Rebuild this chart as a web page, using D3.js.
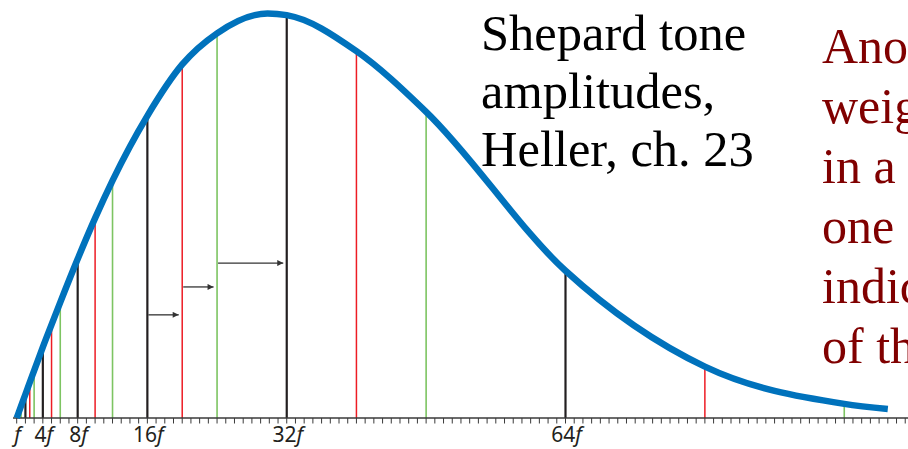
<!DOCTYPE html>
<html>
<head>
<meta charset="utf-8">
<script src="https://cdn.jsdelivr.net/npm/d3@7"></script>
<style>
  html, body { margin: 0; padding: 0; background: #fff; }
  svg { display: block; }
</style>
</head>
<body>
<svg id="chart" width="908" height="449"></svg>
<script>
// Partials of a Shepard tone, as multiples of the base frequency f,
// and their amplitudes under the spectral envelope (peak = 1).
const octaveHarmonics = [1, 2, 4, 8, 16, 32, 64];
const octaveAmps      = [0.0, 0.0586, 0.1755, 0.393, 0.747, 0.996, 0.364];

const thirdHarmonics  = [1.25, 2.5, 5, 10, 20, 40, 80];
const thirdAmps       = [0.0148, 0.088, 0.231, 0.494, 0.874, 0.907, 0.127];

const fifthHarmonics  = [1.5, 3, 6, 12, 24, 48, 96];
const fifthAmps       = [0.0297, 0.117, 0.286, 0.587, 0.951, 0.757, 0.035];

// Extra envelope points: the summit and the right-hand tail.
const envelopeExtraHarmonics = [29.8, 101];
const envelopeExtraAmps      = [1.0, 0.022];

// Gliding steps shown by the arrows: [from, to, level].
const glideFrom  = [16, 20, 24];
const glideTo    = [20, 24, 32];
const glideLevel = [0.255, 0.324, 0.383];

// Axis ticks: every integer multiple of f; labelled multiples.
const tickMultiples  = d3.range(1, 104);
const labelMultiples = [1, 4, 8, 16, 32, 64];
const labelNumbers   = ["", "4", "8", "16", "32", "64"];

const titleLines = ["Shepard tone", "amplitudes,", "Heller, ch. 23"];
const sideLines  = ["Ano", "weig", "in a", "one", "indic", "of th"];

const svg = d3.select("#chart");

const x = d3.scaleLinear().domain([1, 64]).range([16.7, 565.5]);
const y = d3.scaleLinear().domain([0, 1]).range([418, 13.5]);

const partials = [];
const addSeries = (hs, as, color, width) =>
  hs.forEach((h, i) => partials.push({ h, a: as[i], color, width }));
addSeries(octaveHarmonics, octaveAmps, "#231f20", 2.2);
addSeries(thirdHarmonics, thirdAmps, "#ed1c24", 1.5);
addSeries(fifthHarmonics, fifthAmps, "#7dc462", 1.6);

// Vertical partial lines
svg.append("g").selectAll("line")
  .data(partials.filter(d => d.a > 0))
  .join("line")
  .attr("x1", d => x(d.h)).attr("x2", d => x(d.h))
  .attr("y1", y(0)).attr("y2", d => y(d.a))
  .attr("stroke", d => d.color)
  .attr("stroke-width", d => d.width);

// Arrows
svg.append("defs").append("marker")
  .attr("id", "head")
  .attr("viewBox", "0 0 10 10")
  .attr("refX", 10).attr("refY", 5)
  .attr("markerWidth", 8).attr("markerHeight", 6)
  .attr("markerUnits", "userSpaceOnUse")
  .attr("orient", "auto")
  .append("path").attr("d", "M0,0L10,5L0,10Z").attr("fill", "#333");

svg.append("g").selectAll("line")
  .data(glideFrom.map((f, i) => ({ f, t: glideTo[i], l: glideLevel[i] })))
  .join("line")
  .attr("x1", d => x(d.f) + 1)
  .attr("x2", d => x(d.t) - 3.5)
  .attr("y1", d => y(d.l)).attr("y2", d => y(d.l))
  .attr("stroke", "#333").attr("stroke-width", 1.3)
  .attr("marker-end", "url(#head)");

// Axis
const axisG = svg.append("g").attr("transform", `translate(0,${y(0)})`);
axisG.append("line")
  .attr("x1", 13).attr("x2", 908).attr("y1", 0).attr("y2", 0)
  .attr("stroke", "#3a3a3a").attr("stroke-width", 1.4);
axisG.selectAll("line.tick")
  .data(tickMultiples)
  .join("line").attr("class", "tick")
  .attr("x1", d => x(d)).attr("x2", d => x(d))
  .attr("y1", 0).attr("y2", 5.5)
  .attr("stroke", "#3a3a3a").attr("stroke-width", 1);

const labels = axisG.selectAll("text")
  .data(labelMultiples.map((m, i) => ({ m, n: labelNumbers[i] })))
  .join("text")
  .attr("x", d => x(d.m) + 1)
  .attr("y", 24)
  .attr("text-anchor", "middle")
  .attr("font-family", "'Noto Sans', 'Open Sans', sans-serif")
  .attr("font-size", 21)
  .attr("fill", "#231f20");
labels.append("tspan").text(d => d.n);
labels.append("tspan").attr("font-style", "italic").text("f");

// Spectral envelope
const envelope = partials.map(d => ({ h: d.h, a: d.a }))
  .concat(envelopeExtraHarmonics.map((h, i) => ({ h, a: envelopeExtraAmps[i] })))
  .sort((p, q) => p.h - q.h);

svg.append("path")
  .datum(envelope)
  .attr("fill", "none")
  .attr("stroke", "#0072bc")
  .attr("stroke-width", 6.5)
  .attr("d", d3.line().x(d => x(d.h)).y(d => y(d.a)).curve(d3.curveMonotoneX));

// Caption
svg.append("g").selectAll("text")
  .data(titleLines)
  .join("text")
  .attr("x", 481)
  .attr("y", (d, i) => 50 + i * 58)
  .attr("font-family", "'Liberation Serif', 'Times New Roman', serif")
  .attr("font-size", 50.5)
  .attr("fill", "#000")
  .text(d => d);

svg.append("g").selectAll("text")
  .data(sideLines)
  .join("text")
  .attr("x", 822)
  .attr("y", (d, i) => 63 + i * 60)
  .attr("font-family", "'Liberation Serif', 'Times New Roman', serif")
  .attr("font-size", 50)
  .attr("fill", "#800000")
  .text(d => d);
</script>
</body>
</html>
